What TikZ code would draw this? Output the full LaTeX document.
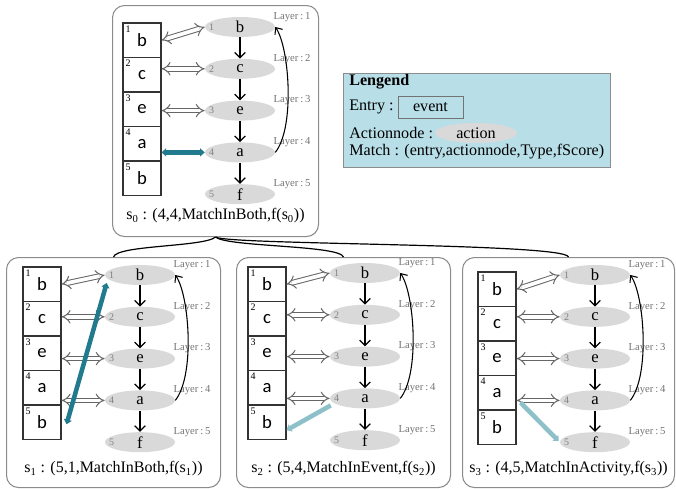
\documentclass[tikz,border=0pt]{standalone}
\usepackage{fontspec}
\setmainfont{Liberation Serif}
\newfontfamily\cellfont{Carlito}
\usetikzlibrary{arrows.meta,shapes.geometric,calc}

\definecolor{tealdark}{HTML}{217A8E}
\definecolor{teallight}{HTML}{8EC0C9}
\definecolor{legendblue}{HTML}{B8DEE8}
\definecolor{actgray}{HTML}{D9D9D9}
\definecolor{framegray}{HTML}{8C8C8C}

\tikzset{
  panel/.style={draw=framegray, line width=0.8pt, rounded corners=9pt, inner sep=0pt},
  cell/.style={draw=black!80, line width=0.8pt, minimum width=28.5pt, minimum height=25.9pt,
    inner sep=0pt, font=\cellfont\fontsize{14}{14}\selectfont},
  act/.style={ellipse, fill=actgray, minimum width=52.5pt, minimum height=15pt, inner sep=0pt,
    font=\fontsize{12.5}{12.5}\selectfont},
  idx/.style={font=\fontsize{7.5}{7.5}\selectfont, inner sep=0pt},
  actidx/.style={font=\fontsize{7.5}{7.5}\selectfont, text=black!50, inner sep=0pt},
  layer/.style={font=\fontsize{8}{8}\selectfont, text=black!55, inner sep=0pt},
  caption/.style={font=\fontsize{12}{12}\selectfont, inner sep=0pt},
  legendfont/.style={font=\fontsize{12.1}{12.1}\selectfont},
  legendtext/.style={legendfont, inner sep=0pt, anchor=west},
  varrow/.style={-{Straight Barb[length=4pt,width=8pt]}, line width=0.9pt},
  backarrow/.style={-{Straight Barb[length=4pt,width=7pt]}, line width=0.8pt},
  hollow/.style={draw=black!60, line width=0.75pt, double=white, double distance=2.8pt,
    {Implies}-{Implies}},
  matchdark/.style={draw=tealdark, line width=3.4pt,
    {Triangle[length=3.5pt,width=6pt]}-{Triangle[length=3.5pt,width=6pt]}},
  matchlight/.style={draw=teallight, line width=3.4pt, -{Triangle[length=3.5pt,width=6pt]}},
  link/.style={line width=0.9pt},
}

% One state: entry column, action nodes with layers, and their links.
% #1 prefix, #2 column left x, #3 column top y, #4 y of the first action node
\newcommand\statepanel[4]{%
  \foreach \i/\ev in {1/b,2/c,3/e,4/a,5/b} {
    \node[cell] (#1c\i) at ({#2+19},{#3+17.25+34.5*(\i-1)}) {\ev};
    \node[idx, anchor=north west] at ($(#1c\i.north west)+(3,3)$) {\i};
  }
  \foreach \i/\ac in {1/b,2/c,3/e,4/a,5/f} {
    \node[act] (#1n\i) at ({#2+117},{#4+41.8*(\i-1)}) {\ac};
    \node[actidx, anchor=west] at ($(#1n\i.west)+(4,0)$) {\i};
    \node[layer] at ($(#1n\i)+(52,-10)$) {Layer\,:\,\i};
  }
  \foreach \i [count=\j from 2] in {1,...,4}
    \draw[varrow] (#1n\i) -- (#1n\j);
  \draw[backarrow] (#1n4.east) .. controls +(20,-25) and +(14,20) .. (#1n1.east);
  \draw[hollow] (#1c1.east) -- (#1n1.west);
  \foreach \i in {2,3}
    \draw[hollow] (#1c\i.east |- #1n\i) -- (#1n\i.west);
}

\begin{document}
\begin{tikzpicture}[x=0.75pt,y=-0.75pt]
\useasboundingbox (0,0) rectangle (676,489);

% frames of the four states
\node[panel, anchor=north west, minimum width=154.5pt, minimum height=173.25pt] (P0) at (112,5) {};
\node[panel, anchor=north west, minimum width=160.5pt, minimum height=172.5pt] (P1) at (6,257) {};
\node[panel, anchor=north west, minimum width=160.5pt, minimum height=172.5pt] (P2) at (236,257) {};
\node[panel, anchor=north west, minimum width=159pt, minimum height=172.5pt] (P3) at (462,257) {};

% links from the root state to its successors
\draw[link] (P0.south) .. controls +(-12,10) and +(3,-12) .. (P1.north);
\draw[link] (P0.south) .. controls +(12,10) and +(-4,-12) .. (P2.north);
\draw[link] (P0.south) .. controls +(12,8) and +(-3,-14) .. (P3.north);

% state s0
\statepanel{s0}{123}{23}{27}
\draw[matchdark] (s0c4.east |- s0n4) -- (s0n4.west);
\node[caption] at ($(P0.south)+(0,-21)$) {s\textsubscript{0} : (4,4,MatchInBoth,f(s\textsubscript{0}))};

% state s1
\statepanel{s1}{23}{267}{275}
\draw[hollow] (s1c4.east |- s1n4) -- (s1n4.west);
\draw[matchdark] ($(s1c5.east)+(5,2)$) -- ($(s1n1.west)+(2,8)$);
\node[caption] at ($(P1.south)+(0,-19)$) {s\textsubscript{1} : (5,1,MatchInBoth,f(s\textsubscript{1}))};

% state s2
\statepanel{s2}{248}{267}{273}
\draw[hollow] (s2c4.east |- s2n4) -- (s2n4.west);
\draw[matchlight] ($(s2n4.west)+(1,7)$) -- ($(s2c5.east)+(0,8)$);
\node[caption] at ($(P2.south)+(0,-19)$) {s\textsubscript{2} : (5,4,MatchInEvent,f(s\textsubscript{2}))};

% state s3
\statepanel{s3}{478}{272}{275}
\draw[hollow] (s3c4.east |- s3n4) -- (s3n4.west);
\draw[matchlight] ($(s3c4.south east)+(4,-8)$) -- ($(s3n5.west)+(-1,-1)$);
\node[caption] at ($(P3.south)+(0,-19)$) {s\textsubscript{3} : (4,5,MatchInActivity,f(s\textsubscript{3}))};

% legend
\node[draw=black!45, fill=legendblue, line width=0.6pt, anchor=north west, inner sep=0pt,
      minimum width=200pt, minimum height=70.5pt] (L) at (343,73) {};
\node[legendtext, font=\fontsize{12.1}{12.1}\selectfont\bfseries] (Lt) at (349,82) {Lengend};
\node[legendtext] (Le) at (349,107) {Entry :};
\node[draw=black!55, line width=0.6pt, minimum width=48.75pt, minimum height=16.5pt, inner sep=0pt,
      legendfont] (Lev) at (430.5,107) {event};
\node[legendtext] (La) at (349,133) {Actionnode :};
\node[act, minimum width=61.5pt, legendfont] (Lac) at (476,133) {action};
\node[legendtext] (Lm) at (349,152) {Match : (entry,actionnode,Type,fScore)};
\end{tikzpicture}
\end{document}
